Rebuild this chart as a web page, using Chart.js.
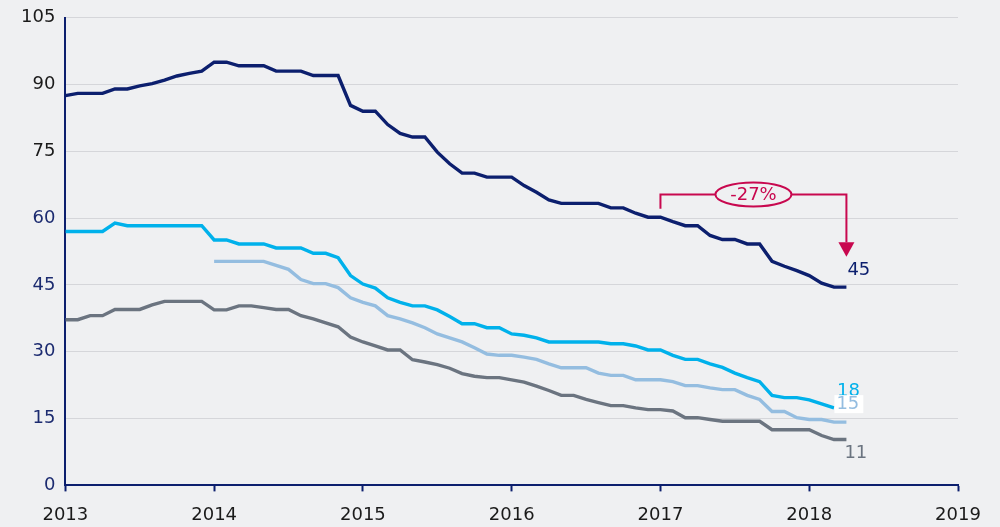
<!DOCTYPE html>
<html>
<head>
<meta charset="utf-8">
<script src="https://cdn.jsdelivr.net/npm/chart.js@4.4.1/dist/chart.umd.min.js"></script>
<style>
  body { margin: 0; background: #eff0f2; }
  #wrap { width: 1000px; height: 527px; }
</style>
</head>
<body>
<div id="wrap"><canvas id="mycanvas" width="1000" height="527"></canvas></div>
<script>
// monthly values, month 0 = Jan 2013
var startYear = 2013;
var yearTicks = [2013, 2014, 2015, 2016, 2017, 2018, 2019];

var navyStart = 0;
var navy = [87.5, 88, 88, 88, 89, 89, 89.7, 90.2, 91, 91.9, 92.5, 93,
            95, 95, 94.2, 94.2, 94.2, 93, 93, 93, 92, 92, 92, 85.3,
            84, 84, 81, 79, 78.2, 78.2, 74.8, 72.2, 70.1, 70.1, 69.2, 69.2,
            69.2, 67.3, 65.8, 64.1, 63.3, 63.3, 63.3, 63.3, 62.3, 62.3, 61.1, 60.2,
            60.2, 59.2, 58.3, 58.3, 56.1, 55.2, 55.2, 54.2, 54.2, 50.3, 49.2, 48.2,
            47.1, 45.4, 44.5, 44.5];

var cyanStart = 0;
var cyan = [57, 57, 57, 57, 58.9, 58.3, 58.3, 58.3, 58.3, 58.3, 58.3, 58.3,
            55.1, 55.1, 54.2, 54.2, 54.2, 53.3, 53.3, 53.3, 52.1, 52.1, 51.1, 47.1,
            45.2, 44.3, 42.1, 41.1, 40.3, 40.3, 39.4, 37.9, 36.3, 36.3, 35.4, 35.4,
            34, 33.7, 33.1, 32.2, 32.2, 32.2, 32.2, 32.2, 31.8, 31.8, 31.3, 30.4,
            30.4, 29.2, 28.3, 28.3, 27.3, 26.5, 25.2, 24.2, 23.3, 20.2, 19.7, 19.7,
            19.2, 18.3, 17.4];

var lightStart = 12;
var light = [50.3, 50.3, 50.3, 50.3, 50.3, 49.4, 48.5, 46.2, 45.3, 45.3, 44.4, 42.1,
             41.1, 40.3, 38.1, 37.4, 36.5, 35.4, 34, 33.1, 32.2, 30.9, 29.5, 29.2,
             29.2, 28.8, 28.3, 27.3, 26.4, 26.4, 26.4, 25.2, 24.7, 24.7, 23.7, 23.7,
             23.7, 23.3, 22.4, 22.4, 21.9, 21.5, 21.5, 20.2, 19.3, 16.6, 16.6, 15.2,
             14.8, 14.8, 14.2, 14.2];

var grayStart = 0;
var gray = [37.2, 37.2, 38.1, 38.1, 39.5, 39.5, 39.5, 40.5, 41.3, 41.3, 41.3, 41.3,
            39.4, 39.4, 40.3, 40.3, 39.9, 39.5, 39.5, 38.1, 37.4, 36.5, 35.6, 33.3,
            32.2, 31.3, 30.4, 30.4, 28.2, 27.7, 27.1, 26.3, 25.1, 24.5, 24.2, 24.2,
            23.7, 23.2, 22.3, 21.3, 20.2, 20.2, 19.3, 18.6, 17.9, 17.9, 17.4, 17,
            17, 16.7, 15.2, 15.2, 14.8, 14.4, 14.4, 14.4, 14.4, 12.5, 12.5, 12.5,
            12.5, 11.2, 10.3, 10.3];

var endLabels = ['45', '18', '15', '11'];
var changeText = '-27%';
var changeFrom = 48;   // Jan 2017
var changeTo = 63;     // Apr 2018

var NAVY = '#0c1f6e';
var CYAN = '#00b1eb';
var LIGHT = '#94bde0';
var GRAY = '#6b7480';
var RED = '#c8084f';
var FONT = '"DejaVu Sans", Verdana, sans-serif';

function toPoints(start, arr) {
    var pts = [];
    for (var i = 0; i < arr.length; i++) {
        pts.push({x: start + i, y: arr[i]});
    }
    return pts;
}

function lineSet(label, start, arr, color) {
    return {
        label: label,
        data: toPoints(start, arr),
        borderColor: color,
        backgroundColor: color,
        borderWidth: 3.4,
        pointRadius: 0,
        tension: 0,
        fill: false
    };
}

// end labels and the -27% bracket
var extras = {
    id: 'extras',
    afterDatasetsDraw: function(chart) {
        var c = chart.ctx;
        var xs = chart.scales.x, ys = chart.scales.y;
        c.save();
        c.font = '18px ' + FONT;
        c.textBaseline = 'middle';
        c.textAlign = 'left';

        var specs = [
            {set: 0, color: NAVY, dx: 1, dy: -17},
            {set: 1, color: CYAN, dx: 3, dy: -17},
            {set: 2, color: LIGHT, dx: -10, dy: -18, box: true},
            {set: 3, color: GRAY, dx: -2, dy: 14}
        ];
        specs.forEach(function(s, i) {
            var pts = chart.getDatasetMeta(s.set).data;
            var last = pts[pts.length - 1];
            var tx = last.x + s.dx, ty = last.y + s.dy;
            if (s.box) {
                var w = c.measureText(endLabels[i]).width;
                c.fillStyle = '#ffffff';
                c.fillRect(tx - 2, ty - 9, w + 6, 18);
            }
            c.fillStyle = s.color;
            c.fillText(endLabels[i], tx, ty);
        });

        // bracket
        var x1 = xs.getPixelForValue(changeFrom);
        var x2 = xs.getPixelForValue(changeTo);
        var yTop = ys.getPixelForValue(65.3);
        var yLeft = ys.getPixelForValue(62.1);
        var yTip = ys.getPixelForValue(51.3);
        var yHead = ys.getPixelForValue(54.6);
        c.strokeStyle = RED;
        c.fillStyle = RED;
        c.lineWidth = 2;
        c.beginPath();
        c.moveTo(x1, yLeft);
        c.lineTo(x1, yTop);
        c.lineTo(x2, yTop);
        c.lineTo(x2, yHead);
        c.stroke();
        c.beginPath();
        c.moveTo(x2 - 8, yHead);
        c.lineTo(x2 + 8, yHead);
        c.lineTo(x2, yTip);
        c.closePath();
        c.fill();

        var mx = (x1 + x2) / 2;
        c.beginPath();
        c.ellipse(mx, yTop, 38, 12, 0, 0, Math.PI * 2);
        c.fillStyle = '#eff0f2';
        c.fill();
        c.stroke();
        c.fillStyle = RED;
        c.textAlign = 'center';
        c.fillText(changeText, mx, yTop + 1);
        c.restore();
    }
};

var ctx = document.getElementById('mycanvas');
var LineGraph = new Chart(ctx, {
    type: 'line',
    data: {
        datasets: [
            lineSet('navy', navyStart, navy, NAVY),
            lineSet('cyan', cyanStart, cyan, CYAN),
            lineSet('light', lightStart, light, LIGHT),
            lineSet('gray', grayStart, gray, GRAY)
        ]
    },
    options: {
        responsive: false,
        animation: false,
        layout: { padding: { left: 11, right: 42, top: 0, bottom: -12 } },
        plugins: { legend: { display: false }, tooltip: { enabled: false } },
        scales: {
            x: {
                type: 'linear',
                min: 0,
                max: (yearTicks[yearTicks.length - 1] - startYear) * 12,
                afterBuildTicks: function(axis) {
                    axis.ticks = yearTicks.map(function(y) { return {value: (y - startYear) * 12}; });
                },
                ticks: {
                    color: '#1a1a1a',
                    font: { family: FONT, size: 18 },
                    padding: 13,
                    maxRotation: 0,
                    callback: function(v) { return String(startYear + v / 12); }
                },
                grid: { drawOnChartArea: false, color: NAVY, tickLength: 6, tickWidth: 2 },
                border: { color: NAVY, width: 2 }
            },
            y: {
                min: 0,
                max: 105,
                ticks: {
                    stepSize: 15,
                    padding: 10,
                    font: { family: FONT, size: 18, lineHeight: 0.85 },
                    color: function(c) { return c.tick && c.tick.value >= 75 ? '#1a1a1a' : '#1c2b70'; }
                },
                grid: { color: '#d5d6da', lineWidth: 1, drawTicks: false },
                border: { color: NAVY, width: 2 }
            }
        }
    },
    plugins: [extras]
});
</script>
</body>
</html>
